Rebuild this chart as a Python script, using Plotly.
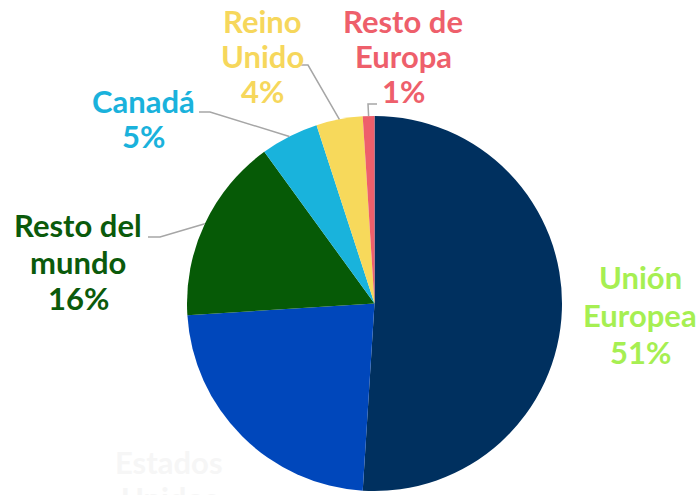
import math
import plotly.graph_objects as go

# Data
labels = ["Unión Europea", "Estados Unidos", "Resto del mundo", "Canadá", "Reino Unido", "Resto de Europa"]
label_lines = [["Unión", "Europea"], ["Estados", "Unidos"], ["Resto del", "mundo"],
               ["Canadá"], ["Reino", "Unido"], ["Resto de", "Europa"]]
values = [51, 23, 16, 5, 4, 1]

slice_colors = ["#00305f", "#0047bb", "#065a06", "#19b3dc", "#f7d95b", "#ee5f6b"]
text_colors = ["#a6ef52", "#f6f6f6", "#0b5a0b", "#1ab2dc", "#f6d75c", "#ee5f6b"]

W, H = 700, 495
cx, cy, R = 374.5, 303.5, 187.5

def px(x):
    return x / W

def py(y):
    return 1 - y / H

fig = go.Figure(go.Pie(
    labels=labels,
    values=values,
    sort=False,
    direction="clockwise",
    rotation=0,
    marker=dict(colors=slice_colors, line=dict(width=0)),
    textinfo="none",
    hoverinfo="label+percent",
    showlegend=False,
    domain=dict(x=[px(cx - R), px(cx + R)], y=[py(cy + R), py(cy - R)]),
))

# first-line centre of each label block (pixels) and line spacing
label_pos = [(640, 277), (169, 462), (78, 225), (143, 101), (262, 21), (403, 21)]
line_gap = [37.5, 36, 36.5, 35, 35, 35]
# leader line anchor near label (pixels); None = no leader
leader_anchor = [None, None, (148, 237), (199, 112), (300, 65), (377, 104)]
leader_knee = [None, None, (160, 237), (210, 112), (308, 65), (368, 104)]

total = sum(values)
annotations = []
shapes = []
cum = 0
for i, v in enumerate(values):
    pct = round(100 * v / total)
    lines = label_lines[i] + [f"{pct}%"]
    for j, t in enumerate(lines):
        annotations.append(dict(
            x=px(label_pos[i][0]), y=py(label_pos[i][1] + j * line_gap[i]),
            xref="paper", yref="paper",
            text=t, showarrow=False,
            xanchor="center", yanchor="middle", align="center",
            font=dict(family="Lato", size=31, color=text_colors[i], weight="bold"),
        ))
    mid = (cum + v / 2) / total * 2 * math.pi
    cum += v
    if leader_anchor[i] is not None:
        ex = cx + R * math.sin(mid)
        ey = cy - R * math.cos(mid)
        a, k = leader_anchor[i], leader_knee[i]
        path = (f"M {px(a[0])},{py(a[1])} L {px(k[0])},{py(k[1])} "
                f"L {px(ex)},{py(ey)}")
        shapes.append(dict(type="path", path=path, xref="paper", yref="paper",
                           line=dict(color="#a6a6a6", width=1.5)))

fig.update_layout(
    width=W, height=H,
    margin=dict(l=0, r=0, t=0, b=0),
    paper_bgcolor="white",
    plot_bgcolor="white",
    annotations=annotations,
    shapes=shapes,
)

fig.write_html(
    "out.html",
    config={"displayModeBar": False},
    post_script="document.body.style.margin='0';document.body.style.overflow='hidden';",
)
